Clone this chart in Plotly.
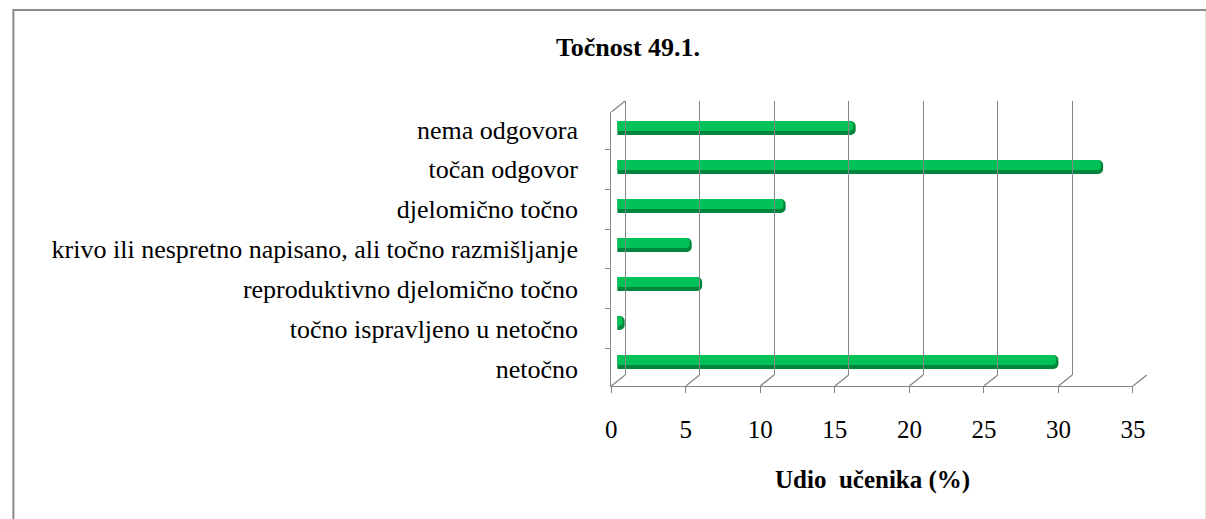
import plotly.graph_objects as go

# categories top -> bottom, share of pupils (%)
kategorije = [
    "nema odgovora",
    "točan odgovor",
    "djelomično točno",
    "krivo ili nespretno napisano, ali točno razmišljanje",
    "reproduktivno djelomično točno",
    "točno ispravljeno u netočno",
    "netočno",
]
udio = [16.0, 32.6, 11.3, 5.0, 5.7, 0.5, 29.6]
x_ticks = [0, 5, 10, 15, 20, 25, 30, 35]

naslov = "Točnost 49.1."
x_naslov = "Udio\u00a0 učenika (%)"

W, H = 1206, 519
serif = "Liberation Serif, Times New Roman, serif"
grey = "#868686"


def fx(p):
    return p / W


def fy(p):
    return 1 - p / H


fig = go.Figure()

# bars: dark base + lighter top for a bit of the 3D look
fig.add_trace(go.Bar(x=udio, y=kategorije, orientation="h", width=0.36,
                     marker=dict(color="#00863c", cornerradius=5, line=dict(width=0)),
                     xaxis="x", yaxis="y", hoverinfo="x+y"))
fig.add_trace(go.Bar(x=[v - 0.15 if v > 0.3 else v for v in udio], y=kategorije,
                     orientation="h", width=0.26, offset=-0.18,
                     marker=dict(color="#00c257", cornerradius=4, line=dict(width=0)),
                     xaxis="x", yaxis="y", hoverinfo="skip"))

# back wall grid
fig.add_trace(go.Scatter(x=[], y=[], xaxis="x2", yaxis="y2", showlegend=False))
# front axes
fig.add_trace(go.Scatter(x=udio, y=kategorije, mode="markers", marker=dict(opacity=0),
                         xaxis="x3", yaxis="y3", hoverinfo="skip"))

fig.update_layout(
    width=W, height=H,
    margin=dict(l=0, r=0, t=0, b=0),
    paper_bgcolor="white", plot_bgcolor="rgba(0,0,0,0)",
    showlegend=False, barmode="overlay",
    title=dict(text="<b>" + naslov + "</b>", x=fx(628), y=fy(47),
               xanchor="center", yanchor="middle",
               font=dict(family=serif, size=26, color="black")),
    xaxis=dict(domain=[fx(621), fx(1151)], range=[0, 35], visible=False, anchor="y"),
    yaxis=dict(domain=[fy(381.5), fy(108.5)], categoryorder="array",
               categoryarray=kategorije, autorange="reversed", visible=False, anchor="x"),
    xaxis2=dict(domain=[fx(629), fx(1159)], range=[0, 35], tickvals=x_ticks,
                showgrid=True, gridcolor=grey, gridwidth=1.3, zeroline=True,
                zerolinecolor=grey, zerolinewidth=1.3, showticklabels=False,
                ticks="", showline=False, anchor="y2"),
    yaxis2=dict(domain=[fy(375), fy(101)], range=[0, 1], visible=False, anchor="x2"),
    xaxis3=dict(domain=[fx(615), fx(1145)], range=[0, 35], tickvals=x_ticks,
                showgrid=False, zeroline=False, showline=True, linecolor=grey,
                linewidth=1.3, ticks="outside", ticklen=6, tickcolor=grey, tickwidth=1.3,
                ticklabelstandoff=15, anchor="y3",
                tickfont=dict(family=serif, size=25, color="black")),
    yaxis3=dict(domain=[fy(386), fy(112)], categoryorder="array", categoryarray=kategorije,
                autorange="reversed", showgrid=False, zeroline=False, showline=True,
                linecolor=grey, linewidth=1.3, ticks="outside", tickson="boundaries",
                ticklen=5, tickcolor=grey, tickwidth=1.3, ticklabelstandoff=27,
                anchor="x3", tickfont=dict(family=serif, size=26, color="black")),
)

# 3D wall/floor connectors between front axes and back grid
shapes = []
step = (1145 - 615) / 35
for t in x_ticks:
    shapes.append(dict(type="line", xref="paper", yref="paper",
                       x0=fx(615 + t * step), y0=fy(386),
                       x1=fx(629 + t * step), y1=fy(375),
                       line=dict(color=grey, width=1.3)))
shapes.append(dict(type="line", xref="paper", yref="paper",
                   x0=fx(615), y0=fy(112), x1=fx(629), y1=fy(101),
                   line=dict(color=grey, width=1.3)))
# outer chart border (right and bottom edges fall outside the picture)
shapes.append(dict(type="rect", xref="paper", yref="paper",
                   x0=fx(7.5), y0=fy(540), x1=fx(1220), y1=fy(10),
                   line=dict(color="#8a8a8a", width=2)))
fig.update_layout(shapes=shapes)

fig.add_annotation(text="<b>" + x_naslov + "</b>", xref="paper", yref="paper",
                   x=fx(880), y=fy(480), xanchor="center", yanchor="middle",
                   showarrow=False, font=dict(family=serif, size=25, color="black"))

fig.write_html("out.html", config={"displayModeBar": False},
               post_script="document.documentElement.style.overflow='hidden';"
                           "document.body.style.margin='0';"
                           "document.body.style.overflow='hidden';")
